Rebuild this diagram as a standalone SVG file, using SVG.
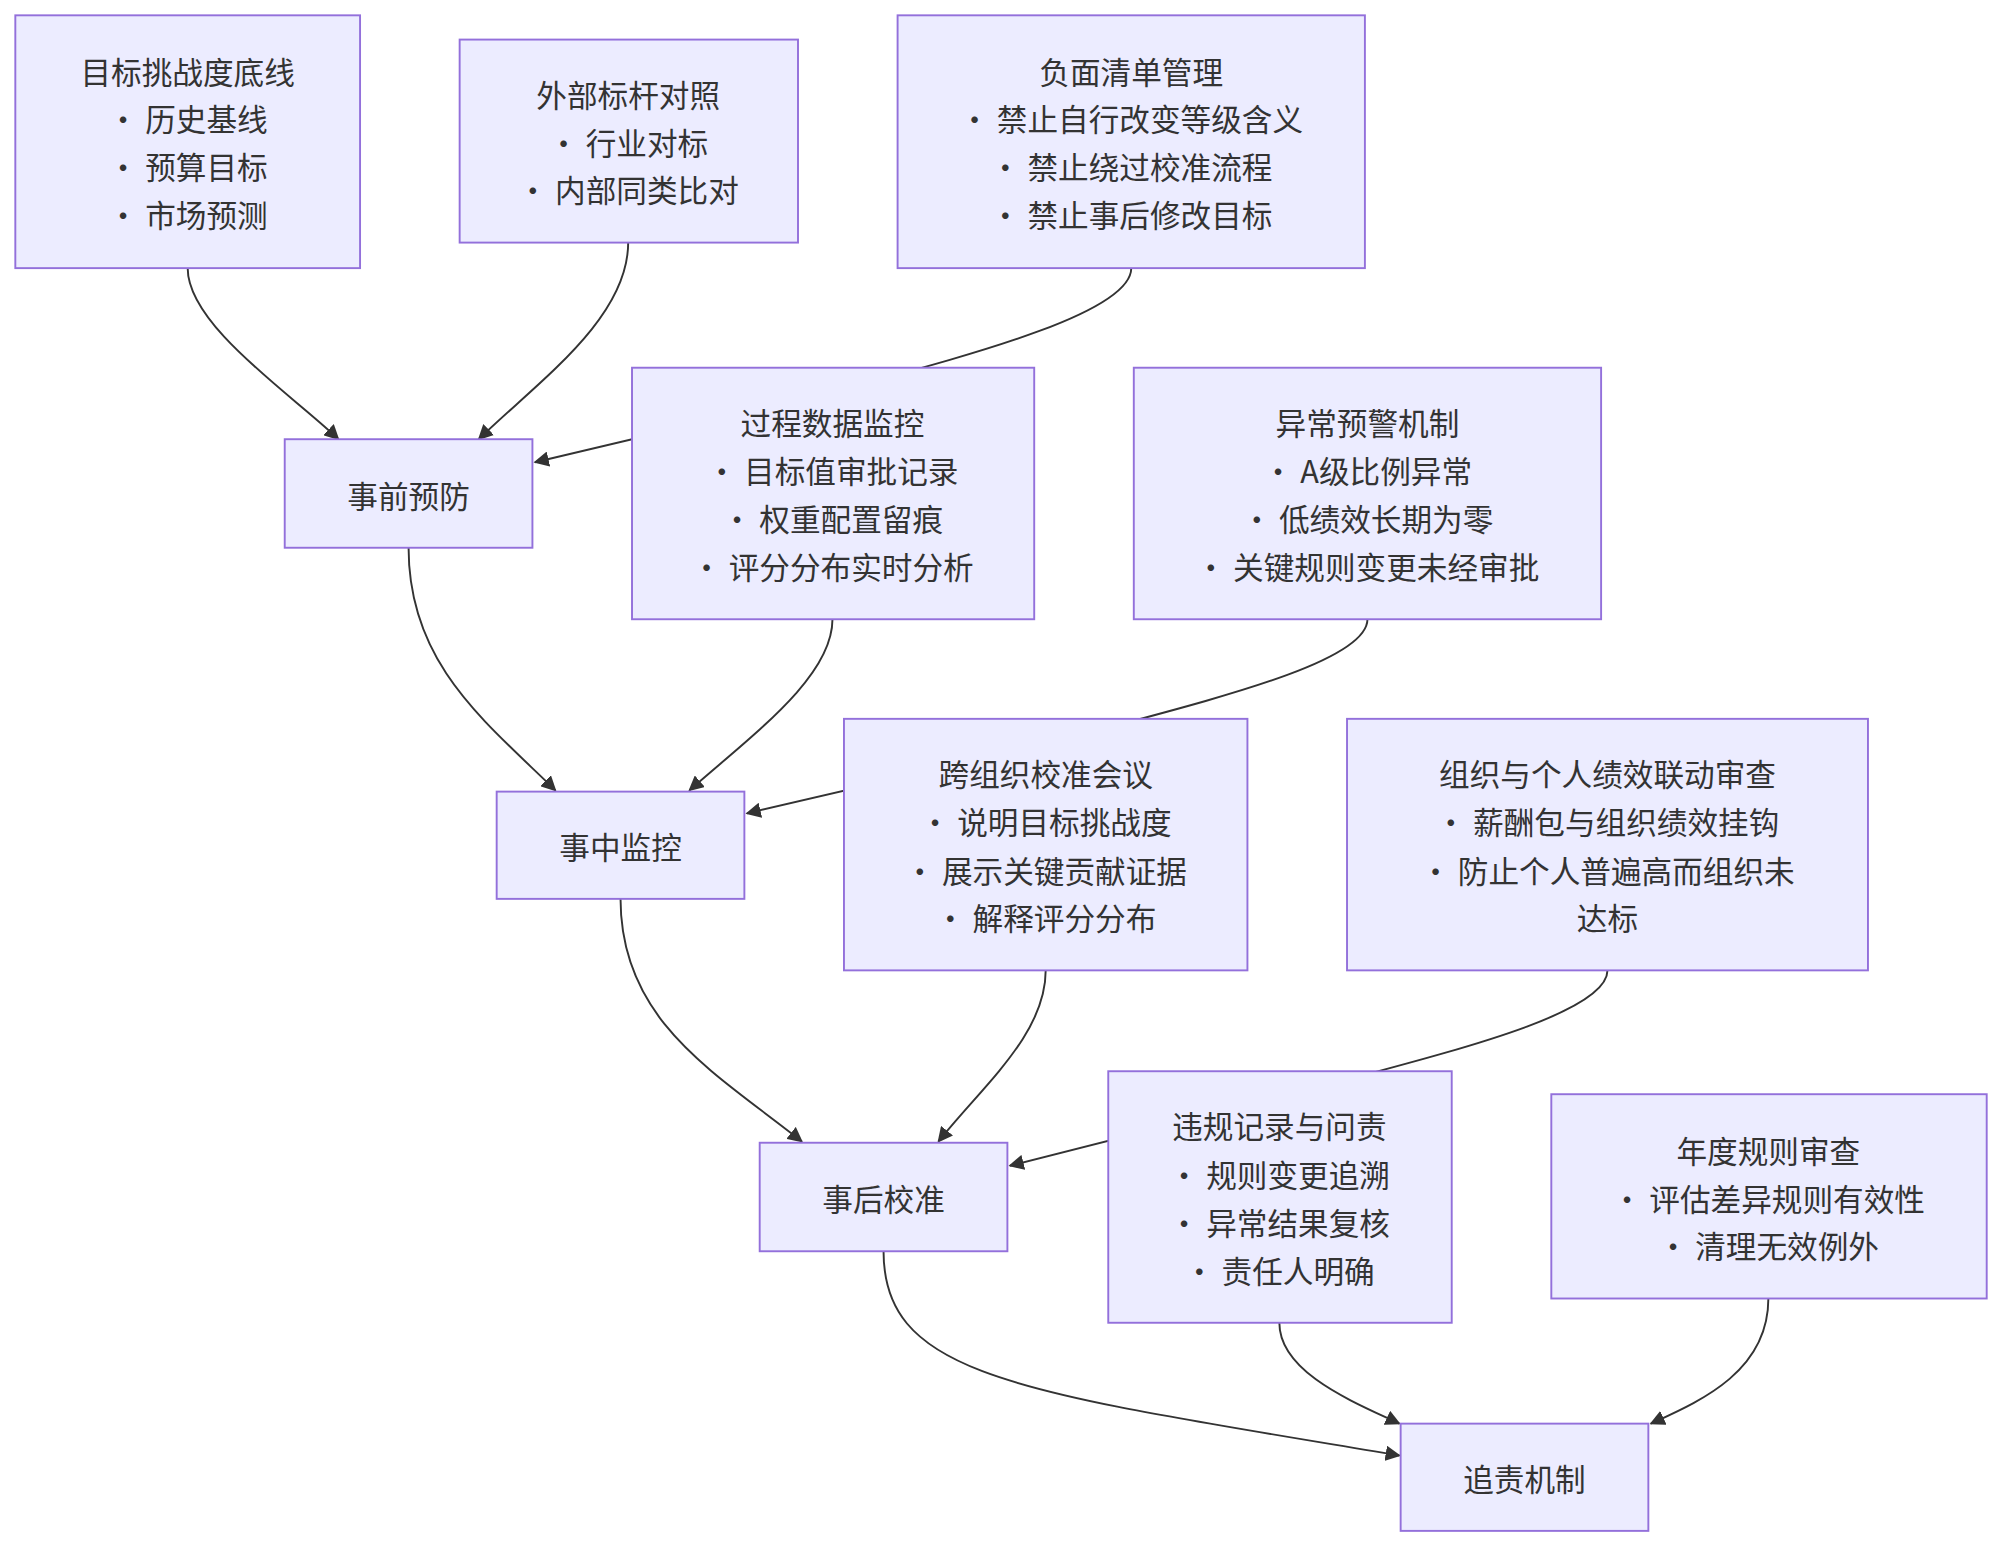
<svg xmlns="http://www.w3.org/2000/svg" width="2002" height="1548" viewBox="0 0 2002 1548">
<style>
.n rect{fill:#ECECFF;stroke:#9370DB;stroke-width:1.5}
.n text{font-family:"Noto Sans CJK SC","Liberation Sans",sans-serif;font-size:24px;fill:#333;text-anchor:middle;dominant-baseline:central}
.e path{fill:none;stroke:#333;stroke-width:1.5;marker-end:url(#ar)}
</style>
<defs><marker id="ar" viewBox="0 0 10 10" refX="9" refY="5" markerWidth="8" markerHeight="8" orient="auto"><path d="M0,0L10,5L0,10z" fill="#333"/></marker></defs>
<rect width="2002" height="1548" fill="#fff"/>
<g transform="scale(1.2768)">
<g id="connectors" class="e">
<path d="M147,210 C147,255 230,310 265,344"/>
<path d="M492,190 C492,250 420,300 375,344"/>
<path d="M886,210 C886,245 760,278 660,305 L419,362"/>
<path d="M320,429 C320,520 380,565 435,619"/>
<path d="M652,485 C652,530 590,575 540,619"/>
<path d="M1071,485 C1071,520 940,550 830,580 L585,637"/>
<path d="M486,704 C486,800 560,840 628,894"/>
<path d="M819,760 C819,810 770,850 735,894"/>
<path d="M1259,760 C1259,795 1130,825 1020,855 L791,913"/>
<path d="M692,980 C692,1080 800,1090 1096,1140"/>
<path d="M1002,1036 C1002,1075 1060,1098 1096,1115"/>
<path d="M1385,1017 C1385,1075 1330,1098 1293,1115"/>
</g>
<g id="nA" class="n"><rect x="12" y="12" width="270" height="198"/><text x="147" y="55">目标挑战度底线</text><text x="147" y="92">• 历史基线</text><text x="147" y="130">• 预算目标</text><text x="147" y="167">• 市场预测</text></g>
<g id="nB" class="n"><rect x="360" y="31" width="265" height="159"/><text x="492" y="73">外部标杆对照</text><text x="492" y="111">• 行业对标</text><text x="492" y="148">• 内部同类比对</text></g>
<g id="nC" class="n"><rect x="703" y="12" width="366" height="198"/><text x="886" y="55">负面清单管理</text><text x="886" y="92">• 禁止自行改变等级含义</text><text x="886" y="130">• 禁止绕过校准流程</text><text x="886" y="167">• 禁止事后修改目标</text></g>
<g id="p1" class="n"><rect x="223" y="344" width="194" height="85"/><text x="320" y="387">事前预防</text></g>
<g id="nD" class="n"><rect x="495" y="288" width="315" height="197"/><text x="652" y="330">过程数据监控</text><text x="652" y="368">• 目标值审批记录</text><text x="652" y="405">• 权重配置留痕</text><text x="652" y="443">• 评分分布实时分析</text></g>
<g id="nE" class="n"><rect x="888" y="288" width="366" height="197"/><text x="1071" y="330">异常预警机制</text><text x="1071" y="368">• A级比例异常</text><text x="1071" y="405">• 低绩效长期为零</text><text x="1071" y="443">• 关键规则变更未经审批</text></g>
<g id="p2" class="n"><rect x="389" y="620" width="194" height="84"/><text x="486" y="662">事中监控</text></g>
<g id="nF" class="n"><rect x="661" y="563" width="316" height="197"/><text x="819" y="605">跨组织校准会议</text><text x="819" y="643">• 说明目标挑战度</text><text x="819" y="681">• 展示关键贡献证据</text><text x="819" y="718">• 解释评分分布</text></g>
<g id="nG" class="n"><rect x="1055" y="563" width="408" height="197"/><text x="1259" y="605">组织与个人绩效联动审查</text><text x="1259" y="643">• 薪酬包与组织绩效挂钩</text><text x="1259" y="681">• 防止个人普遍高而组织未</text><text x="1259" y="718">达标</text></g>
<g id="p3" class="n"><rect x="595" y="895" width="194" height="85"/><text x="692" y="938">事后校准</text></g>
<g id="nH" class="n"><rect x="868" y="839" width="269" height="197"/><text x="1002" y="881">违规记录与问责</text><text x="1002" y="919">• 规则变更追溯</text><text x="1002" y="957">• 异常结果复核</text><text x="1002" y="994">• 责任人明确</text></g>
<g id="nI" class="n"><rect x="1215" y="857" width="341" height="160"/><text x="1385" y="900">年度规则审查</text><text x="1385" y="938">• 评估差异规则有效性</text><text x="1385" y="975">• 清理无效例外</text></g>
<g id="p4" class="n"><rect x="1097" y="1115" width="194" height="84"/><text x="1194" y="1157">追责机制</text></g>
</g>
</svg>
